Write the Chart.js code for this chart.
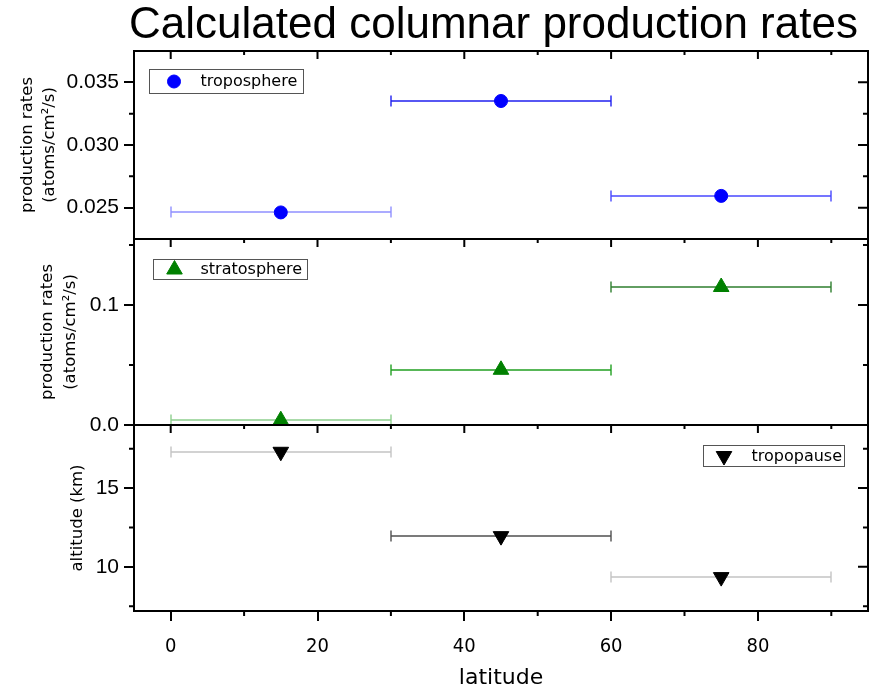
<!DOCTYPE html>
<html><head><meta charset="utf-8">
<script src="https://cdn.jsdelivr.net/npm/chart.js@4/dist/chart.umd.min.js"></script>
<style>html,body{margin:0;padding:0;background:#fff;overflow:hidden}</style>
</head><body>
<canvas id="c" width="879" height="691"></canvas>
<script>
// ---- data ----
const latitudeCenters = [15, 45, 75];
const latitudeBinLow = [0, 30, 60];
const latitudeBinHigh = [30, 60, 90];
const troposphereRates = [0.02462, 0.03351, 0.02594];
const stratosphereRates = [0.004, 0.046, 0.115];
const tropopauseAltitude = [17.3, 11.95, 9.35];
const xTicks = [0, 20, 40, 60, 80];
const xMinorTicks = [10, 30, 50, 70, 90];
const troposphereTicks = [0.025, 0.030, 0.035];
const troposphereMinor = [0.0275, 0.0325];
const stratosphereTicks = [0.0, 0.1];
const stratosphereMinor = [0.05, 0.15];
const tropopauseTicks = [10, 15];
const tropopauseMinor = [7.5, 12.5, 17.5];
const titleText = 'Calculated columnar production rates';

// ---- styles ----
const tropoBarColors = ['#9090ff', '#2020f0', '#4848ff'];
const stratoBarColors = ['#8fcf8f', '#22a022', '#2f7f2f'];
const pauseBarColors = ['#c4c4c4', '#505050', '#c4c4c4'];

function points(values) {
  return latitudeCenters.map((x, i) => ({x: x, y: values[i], xMin: latitudeBinLow[i], xMax: latitudeBinHigh[i]}));
}

const minorTicks = {yTop: troposphereMinor, yMid: stratosphereMinor, yBot: tropopauseMinor};
const majorTicks = {yTop: troposphereTicks, yMid: stratosphereTicks, yBot: tropopauseTicks};

const legendBoxes = [
  {axis: 'yTop', ds: 0, dx: 15, dy: 18, w: 154, h: 24, mx: 24.5, tx: 51},
  {axis: 'yMid', ds: 1, dx: 19, dy: 20, w: 154, h: 20, mx: 21, tx: 47},
  {axis: 'yBot', ds: 2, dx: 569, dy: 20, w: 141, h: 21, mx: 20.5, tx: 48}
];

function drawMarker(ctx, style, x, y, r, rot, color) {
  ctx.save();
  ctx.fillStyle = color; ctx.strokeStyle = color; ctx.lineWidth = 1;
  ctx.beginPath();
  if (style === 'circle') {
    ctx.arc(x, y, r, 0, Math.PI * 2);
  } else {
    let a = rot * Math.PI / 180;
    ctx.moveTo(x + Math.sin(a) * r, y - Math.cos(a) * r);
    a += 2 * Math.PI / 3;
    ctx.lineTo(x + Math.sin(a) * r, y - Math.cos(a) * r);
    a += 2 * Math.PI / 3;
    ctx.lineTo(x + Math.sin(a) * r, y - Math.cos(a) * r);
    ctx.closePath();
  }
  ctx.fill(); ctx.stroke();
  ctx.restore();
}

const decor = {
  id: 'decor',
  beforeDatasetsDraw(chart) {
    const ctx = chart.ctx, xs = chart.scales.x;
    ctx.save();
    ctx.lineWidth = 1.4;
    chart.data.datasets.forEach(ds => {
      const ys = chart.scales[ds.yAxisID];
      ds.data.forEach((p, i) => {
        const y = Math.round(ys.getPixelForValue(p.y));
        const x0 = Math.round(xs.getPixelForValue(p.xMin));
        const x1 = Math.round(xs.getPixelForValue(p.xMax));
        ctx.strokeStyle = ds.errorBarColors[i];
        ctx.beginPath();
        ctx.moveTo(x0, y); ctx.lineTo(x1, y);
        ctx.moveTo(x0, y - 5.5); ctx.lineTo(x0, y + 5.5);
        ctx.moveTo(x1, y - 5.5); ctx.lineTo(x1, y + 5.5);
        ctx.stroke();
      });
    });
    ctx.restore();
  },
  afterDraw(chart) {
    const ctx = chart.ctx, ca = chart.chartArea, xs = chart.scales.x;
    ctx.save();
    ctx.strokeStyle = '#000';
    ctx.lineWidth = 2;
    ctx.strokeRect(ca.left, ca.top, ca.right - ca.left, ca.bottom - ca.top);
    ['yMid', 'yBot'].forEach(id => {
      const t = chart.scales[id].top;
      ctx.beginPath(); ctx.moveTo(ca.left, t); ctx.lineTo(ca.right, t); ctx.stroke();
    });
    ctx.beginPath();
    ['yTop', 'yMid', 'yBot'].forEach(id => {
      const s = chart.scales[id];
      xTicks.forEach(v => { const x = xs.getPixelForValue(v); ctx.moveTo(x, s.top); ctx.lineTo(x, s.top + 8); });
      xMinorTicks.forEach(v => { const x = xs.getPixelForValue(v); ctx.moveTo(x, s.top); ctx.lineTo(x, s.top + 4); });
      majorTicks[id].forEach(v => { const y = s.getPixelForValue(v); ctx.moveTo(ca.right, y); ctx.lineTo(ca.right - 10, y); });
      minorTicks[id].forEach(v => {
        const y = s.getPixelForValue(v);
        ctx.moveTo(ca.right, y); ctx.lineTo(ca.right - 5, y);
        ctx.moveTo(ca.left, y); ctx.lineTo(ca.left - 5, y);
      });
    });
    xMinorTicks.forEach(v => { const x = xs.getPixelForValue(v); ctx.moveTo(x, ca.bottom); ctx.lineTo(x, ca.bottom + 5); });
    ctx.stroke();

    legendBoxes.forEach(b => {
      const s = chart.scales[b.axis];
      const ds = chart.data.datasets[b.ds];
      const L = Math.round(ca.left + b.dx) + 0.5, T = Math.round(s.top + b.dy) + 0.5;
      ctx.fillStyle = '#fff';
      ctx.fillRect(L, T, b.w, b.h);
      ctx.lineWidth = 1; ctx.strokeStyle = '#555';
      ctx.strokeRect(L, T, b.w, b.h);
      const cy = T + b.h / 2;
      drawMarker(ctx, ds.pointStyle, L + b.mx, cy, ds.pointRadius, ds.rotation || 0, ds.backgroundColor);
      ctx.fillStyle = '#000';
      ctx.font = '16px "DejaVu Sans"';
      ctx.textAlign = 'left'; ctx.textBaseline = 'middle';
      ctx.fillText(ds.label, L + b.tx, cy + 0.5);
    });

    ctx.fillStyle = '#000';
    ctx.font = '44px "Liberation Sans"';
    ctx.textAlign = 'center'; ctx.textBaseline = 'middle';
    ctx.fillText(titleText, 493.5, 26);
    ctx.restore();
  }
};

const tickFont = {family: 'Liberation Sans', size: 21};
const titleFont = {family: 'DejaVu Sans', size: 16.5, lineHeight: 1.35};
function yAxis(ticks, min, max, fmt, titleTxt, padTop, weight) {
  return {
    type: 'linear', position: 'left', stack: 'panels', stackWeight: weight,
    min: min, max: max,
    afterBuildTicks: s => { s.ticks = ticks.map(v => ({value: v})); },
    afterFit: s => { s.width = 134; },
    ticks: {callback: v => Number(v).toFixed(fmt), font: tickFont, color: '#000', padding: 5},
    grid: {drawOnChartArea: false, drawTicks: true, tickLength: 10, lineWidth: 2, color: '#000'},
    border: {display: false},
    title: {display: true, text: titleTxt, font: titleFont, color: '#000', padding: {top: padTop, bottom: 0}}
  };
}

new Chart(document.getElementById('c'), {
  type: 'scatter',
  data: {
    datasets: [
      {label: 'troposphere', data: points(troposphereRates), yAxisID: 'yTop', pointStyle: 'circle', pointRadius: 6.5,
       backgroundColor: '#0000ff', borderColor: '#0000ff', borderWidth: 1, errorBarColors: tropoBarColors},
      {label: 'stratosphere', data: points(stratosphereRates), yAxisID: 'yMid', pointStyle: 'triangle', pointRadius: 9,
       backgroundColor: '#008000', borderColor: '#008000', borderWidth: 1, errorBarColors: stratoBarColors},
      {label: 'tropopause', data: points(tropopauseAltitude), yAxisID: 'yBot', pointStyle: 'triangle', pointRadius: 9, rotation: 180,
       backgroundColor: '#000000', borderColor: '#000000', borderWidth: 1, errorBarColors: pauseBarColors}
    ]
  },
  options: {
    responsive: false, animation: false, devicePixelRatio: 1,
    layout: {padding: {top: 51, right: 11, left: 0, bottom: 0}},
    plugins: {legend: {display: false}, tooltip: {enabled: false}, title: {display: false}},
    scales: {
      x: {
        type: 'linear', position: 'bottom', min: -5, max: 95,
        afterBuildTicks: s => { s.ticks = xTicks.map(v => ({value: v})); },
        afterFit: s => { s.height = 80; },
        ticks: {font: {family: "'Liberation Sans Narrow', 'DejaVu Sans Condensed', sans-serif", size: 20}, color: '#000', padding: 14},
        grid: {drawOnChartArea: false, drawTicks: true, tickLength: 10, lineWidth: 2, color: '#000'},
        border: {display: false},
        title: {display: true, text: 'latitude', font: {family: 'DejaVu Sans', size: 22}, color: '#000', padding: {top: 0, bottom: 0}}
      },
      yBot: yAxis(tropopauseTicks, 7.2, 19.0, 0, 'altitude (km)', 67, 186),
      yMid: yAxis(stratosphereTicks, 0, 0.155, 1, ['production rates', '(atoms/cm²/s)'], 37, 186),
      yTop: yAxis(troposphereTicks, 0.0225, 0.0375, 3, ['production rates', '(atoms/cm²/s)'], 16.5, 188)
    }
  },
  plugins: [decor]
});
</script>
</body></html>
